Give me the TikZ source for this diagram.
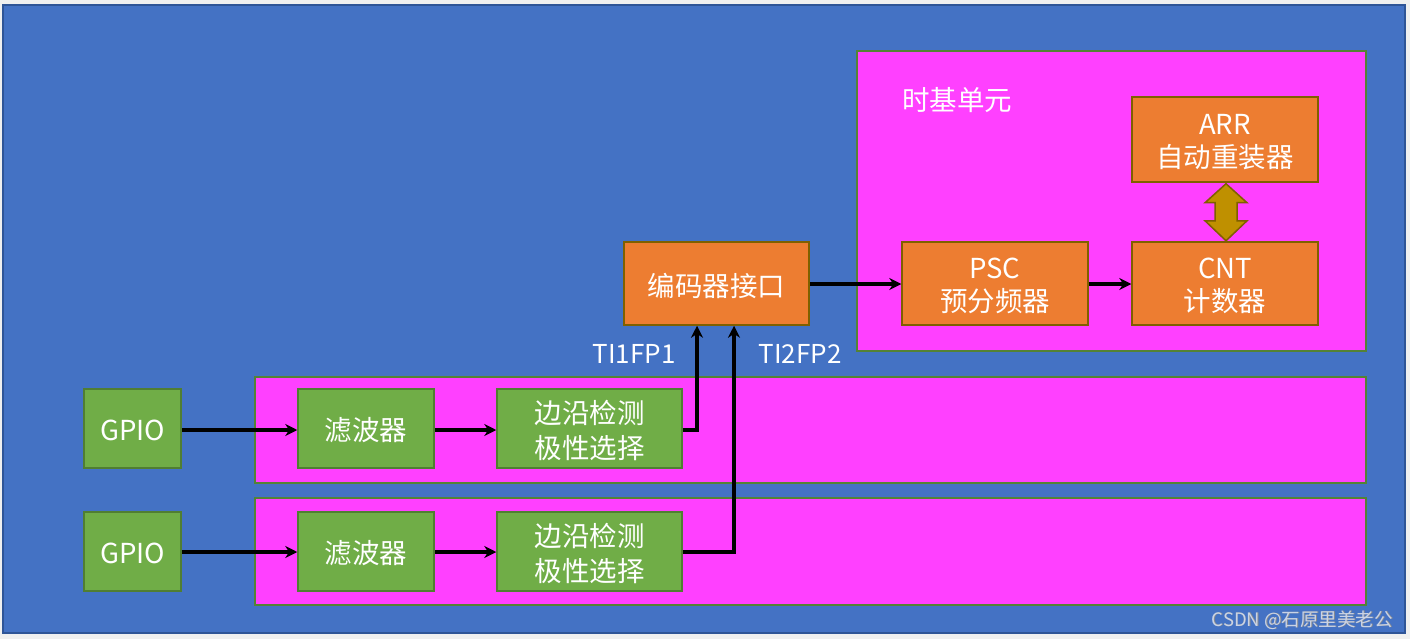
\documentclass[tikz,border=0pt]{standalone}
\usepackage{fontspec}
\setmainfont{Noto Sans CJK SC}
\usetikzlibrary{arrows.meta,calc}
\definecolor{bgblue}{HTML}{4472C4}
\definecolor{bgborder}{HTML}{2F5597}
\definecolor{mag}{HTML}{FF40FF}
\definecolor{magborder}{HTML}{548235}
\definecolor{org}{HTML}{ED7D31}
\definecolor{orgborder}{HTML}{7F6000}
\definecolor{grn}{HTML}{70AD47}
\definecolor{grnborder}{HTML}{507E32}
\definecolor{gold}{HTML}{BF9000}
\definecolor{wm}{HTML}{C9D3E6}
\tikzset{
  x=1pt,y=-1pt,
  region/.style={draw=magborder,line width=1.5pt,fill=mag},
  btext/.style={text=white,font=\fontsize{27.5}{33.5}\selectfont,align=center,inner sep=0pt,yshift=-2.5pt},
  gtext/.style={text=white,font=\fontsize{27.5}{34.5}\selectfont,align=center,inner sep=0pt,yshift=-2pt},
  obox/.style={draw=orgborder,line width=1.5pt,fill=org,inner sep=0pt,label={[btext]center:#1}},
  gbox/.style={draw=grnborder,line width=1.5pt,fill=grn,inner sep=0pt,label={[gtext]center:#1}},
  conn/.style={line width=3.2pt,-{Stealth[length=12pt,width=12pt]}},
  lbl/.style={text=white,font=\fontsize{26}{30}\selectfont,inner sep=0pt}
}
\begin{document}
\begin{tikzpicture}
\useasboundingbox (0,0) rectangle (1410,639);
\fill[white!94!black] (0,0) rectangle (1410,639);
\draw[fill=bgblue,draw=bgborder,line width=2pt] (3,5) rectangle (1405,633);
% time base region
\draw[region] (857,51) rectangle (1366,351);
\node[lbl,font=\fontsize{27.5}{30}\selectfont,anchor=center] (tb) at (957,100) {时基单元};
% channel regions
\draw[region] (255,377) rectangle (1366,483);
\draw[region] (255,498) rectangle (1366,605);
% orange boxes
\node[obox={ARR\\自动重装器},minimum width=186pt,minimum height=85pt] (arr) at (1225,139.5) {};
\node[obox={CNT\\计数器},minimum width=186pt,minimum height=83pt] (cnt) at (1225,283.5) {};
\node[obox={PSC\\预分频器},minimum width=186pt,minimum height=83pt] (psc) at (995,283.5) {};
\node[obox={编码器接口},minimum width=185pt,minimum height=83pt] (enc) at (716.5,283.5) {};
% green boxes
\node[gbox={GPIO},minimum width=97pt,minimum height=79pt] (g1) at (132.5,428.5) {};
\node[gbox={滤波器},minimum width=136pt,minimum height=79pt] (f1) at (366,428.5) {};
\node[gbox={边沿检测\\极性选择},minimum width=185pt,minimum height=79pt] (e1) at (589.5,428.5) {};
\node[gbox={GPIO},minimum width=97pt,minimum height=79pt] (g2) at (132.5,551.5) {};
\node[gbox={滤波器},minimum width=136pt,minimum height=79pt] (f2) at (366,551.5) {};
\node[gbox={边沿检测\\极性选择},minimum width=185pt,minimum height=79pt] (e2) at (589.5,551.5) {};
% double arrow between ARR and CNT
\coordinate (dtop) at ($(arr.south)+(1,1)$);
\coordinate (dbot) at ($(cnt.north)+(1,-0.5)$);
\draw[draw=orgborder,line width=1.5pt,fill=gold,line join=miter]
  (dtop) -- ($(dtop)+(21,19)$) -- ($(dtop)+(11,19)$) -- ($(dbot)+(11,-20)$) -- ($(dbot)+(21,-20)$)
  -- (dbot) -- ($(dbot)+(-21,-20)$) -- ($(dbot)+(-11,-20)$) -- ($(dtop)+(-11,19)$) -- ($(dtop)+(-21,19)$) -- cycle;
% connectors
\draw[conn] (g1.east |- 0,430) -- (f1.west |- 0,430);
\draw[conn] (f1.east |- 0,430) -- (e1.west |- 0,430);
\draw[conn] (g2.east |- 0,552) -- (f2.west |- 0,552);
\draw[conn] (f2.east |- 0,552) -- (e2.west |- 0,552);
\coordinate (c1) at (697,430);
\coordinate (c2) at (734,552);
\draw[conn] (e1.east |- c1) -- (c1) -- (c1 |- enc.south);
\draw[conn] (e2.east |- c2) -- (c2) -- (c2 |- enc.south);
\draw[conn] (enc.east |- 0,284) -- (psc.west |- 0,284);
\draw[conn] (psc.east |- 0,284) -- (cnt.west |- 0,284);
% labels
\node[lbl] (t1) at (634,354) {TI1FP1};
\node[lbl] (t2) at (800,354) {TI2FP2};
% watermark
\node[text=black!45,font=\fontsize{18.5}{20}\selectfont,anchor=east,inner sep=0pt] at (1393.7,620.7) {CSDN @石原里美老公};
\node[text=wm,font=\fontsize{18.5}{20}\selectfont,anchor=east,inner sep=0pt] (wmk) at (1393,620) {CSDN @石原里美老公};
\end{tikzpicture}
\end{document}
